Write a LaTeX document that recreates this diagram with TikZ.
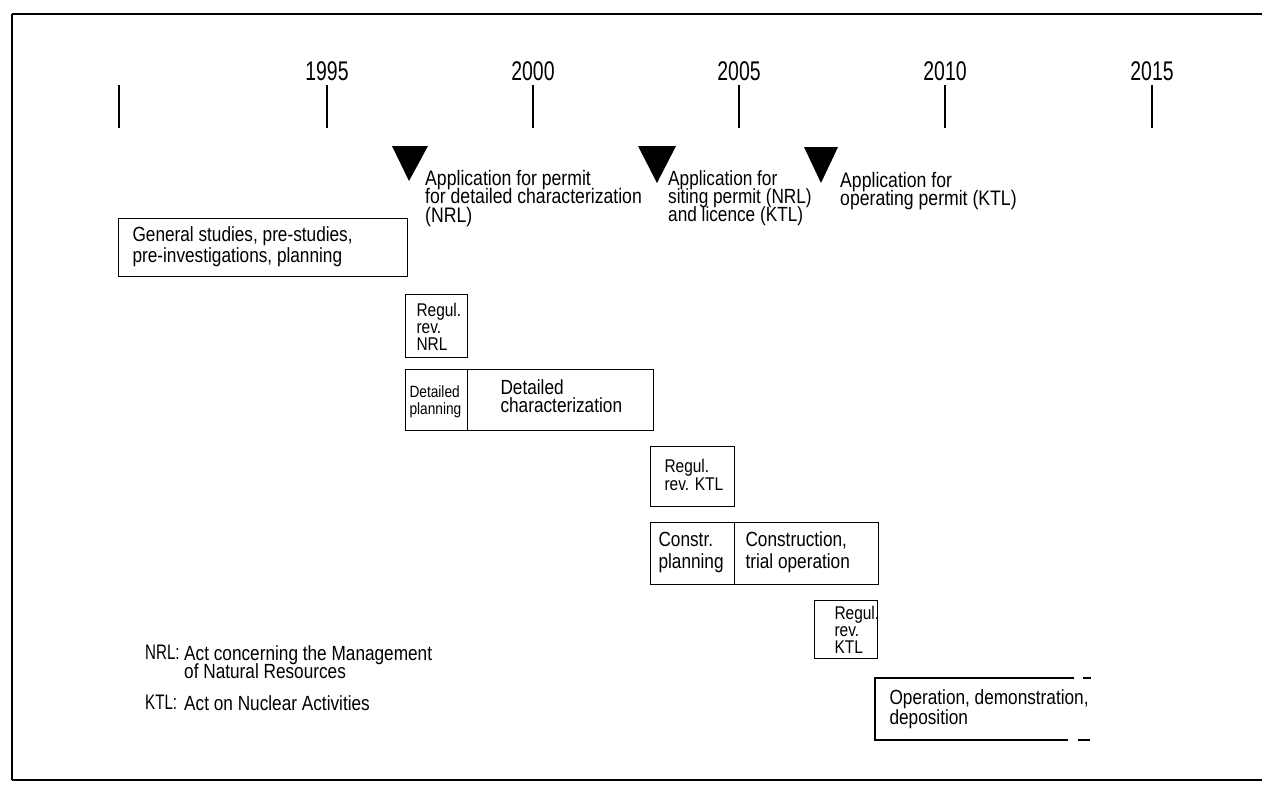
\documentclass[tikz,border=0pt]{standalone}
\usepackage{fontspec}
\setmainfont{Liberation Sans}[FakeStretch=0.84]
\newfontfamily\yearfont{Liberation Sans}[FakeStretch=0.72]
\newcommand{\fsz}[2]{\fontsize{#1}{#2}\selectfont\lineskiplimit=-100pt\lineskip=0pt}
\begin{document}
\begin{tikzpicture}[x=1pt,y=-1pt,
  frame/.style={line width=1.6pt},
  tick/.style={line width=1.3pt},
  box/.style={draw,line width=1.3pt,inner sep=0pt},
  year/.style={font=\yearfont\fsz{27}{27},inner sep=0pt},
  lbl/.style={font=\fsz{21}{18.5},align=left,inner sep=0pt,anchor=north west},
  btxt/.style={font=\fsz{20.5}{20},align=left},
  rtxt/.style={font=\fsz{18.4}{17},align=left},
  stxt/.style={font=\fsz{16.3}{17.5},align=left},
  legend/.style={font=\fsz{20.5}{18.5},align=left,inner sep=0pt,anchor=north west},
  legkey/.style={font=\yearfont\fsz{21}{18},inner sep=0pt,anchor=north west}]
\useasboundingbox (0,0) rectangle (1262,785);
% frame (no right side)
\draw[frame] (12,780) -- (1262,780);
\draw[frame] (12,14) -- (12,780);
\draw[line width=2.2pt] (12,14) -- (1262,14);
% years and ticks
\foreach \xx/\yy in {327/1995,533/2000,739/2005,945/2010,1152/2015}{
  \node[year] (y\yy) at (\xx,71) {\yy};
}
\foreach \xx in {119,327,533,739,945,1152}{
  \draw[tick] (\xx,85) -- (\xx,128);
}
% milestone triangles
\fill (392,146) -- (428,146) -- (409,181) -- cycle;
\fill (638,146) -- (676,146) -- (657,183) -- cycle;
\fill (804,147) -- (838,147) -- (821,183) -- cycle;
\node[lbl] (m1) at (425,170) {Application for permit\\for detailed characterization\\(NRL)};
\node[lbl,font=\fsz{20.5}{18}] (m2) at (668,170) {Application for\\siting permit (NRL)\\and licence (KTL)};
\node[lbl] (m3) at (840,172) {Application for\\operating permit (KTL)};
% general studies
\node[box,minimum width=289pt,minimum height=58pt,anchor=north west] (gen) at (118,218) {};
\node[btxt,anchor=west,font=\fsz{20.5}{21}] (gent) at (129,247) {General studies, pre-studies,\\pre-investigations, planning};
% regul rev NRL
\node[box,minimum width=62pt,minimum height=63pt,anchor=north west] (rnrl) at (405,294) {};
\node[rtxt,anchor=west] (rnrlt) at (413,327) {Regul.\\rev.\\NRL};
% detailed planning / characterization
\node[box,minimum width=62pt,minimum height=61pt,anchor=north west] (dp) at (405,369) {};
\node[box,minimum width=186pt,minimum height=61pt,anchor=north west] (dc) at (467,369) {};
\node[stxt,anchor=west] (dpt) at (406,402) {Detailed\\planning};
\node[btxt,anchor=west,font=\fsz{20.5}{18.5}] (dct) at (497,396) {Detailed\\characterization};
% regul rev KTL 1
\node[box,minimum width=84pt,minimum height=60pt,anchor=north west] (rk1) at (650,446) {};
\node[rtxt,anchor=west,font=\fsz{18.4}{18}] (rk1t) at (661,475) {Regul.\\rev. KTL};
% construction
\node[box,minimum width=84pt,minimum height=62pt,anchor=north west] (cp) at (650,522) {};
\node[box,minimum width=144pt,minimum height=62pt,anchor=north west] (ct) at (734,522) {};
\node[btxt,anchor=west,font=\fsz{20.5}{22}] (cpt) at (655,552) {Constr.\\planning};
\node[btxt,anchor=west,font=\fsz{20.5}{22}] (ctt) at (742,552) {Construction,\\trial operation};
% regul rev KTL 2
\node[box,minimum width=63pt,minimum height=58pt,anchor=north west] (rk2) at (814,600) {};
\node[rtxt,anchor=west] (rk2t) at (831,630) {Regul.\\rev.\\KTL};
% operation (open-ended)
\coordinate (opTL) at (875,678);
\coordinate (opBL) at (875,740);
\coordinate (opTR) at (1074,678);
\coordinate (opBR) at (1068,740);
\draw[line width=1.3pt] (opTR) -- (opTL) -- (opBL) -- (opBR);
\draw[line width=1.3pt] (1083,678) -- (1091,678);
\draw[line width=1.3pt] (1078,740) -- (1090,740);
\node[btxt,anchor=west] (opt) at (886,709) {Operation, demonstration,\\deposition};
% legend
\node[legkey] (k1) at (145,645) {NRL:};
\node[legend] (v1) at (184,645) {Act concerning the Management\\of Natural Resources};
\node[legkey] (k2) at (145,695) {KTL:};
\node[legend] (v2) at (184,695) {Act on Nuclear Activities};
\end{tikzpicture}
\end{document}
